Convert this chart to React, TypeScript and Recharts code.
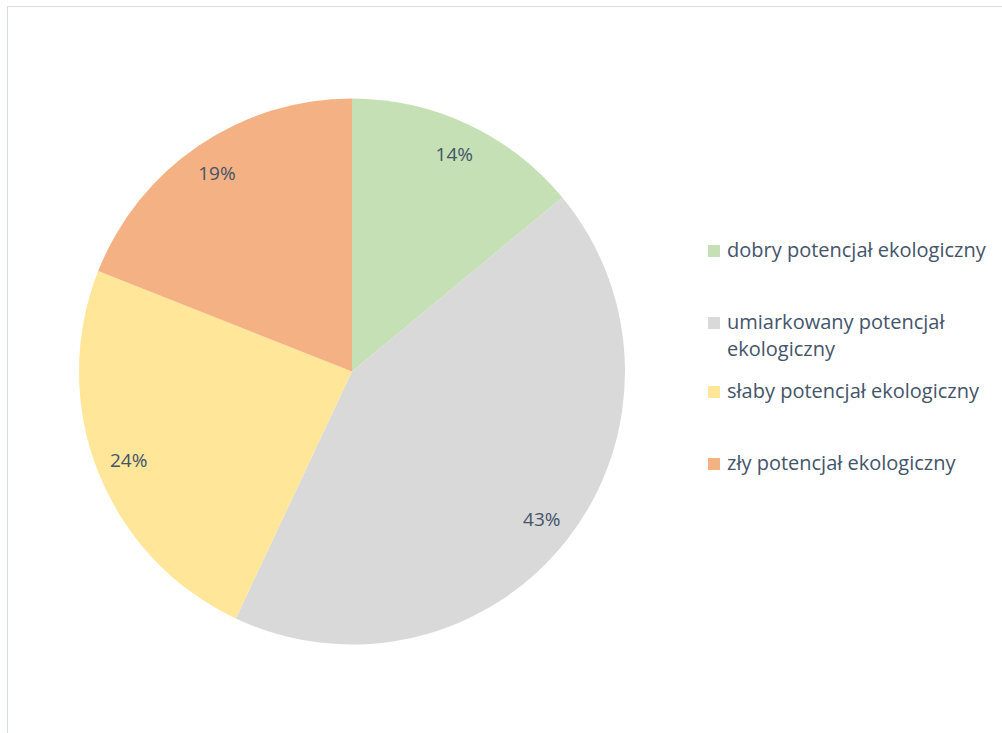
import React from "react";
import { PieChart, Pie, Cell, Legend } from "recharts";

// --- Data ---
const categories = [
  "dobry potencjał ekologiczny",
  "umiarkowany potencjał ekologiczny",
  "słaby potencjał ekologiczny",
  "zły potencjał ekologiczny",
];
const shares = [14, 43, 24, 19];
const COLORS = ["#C5E0B4", "#D9D9D9", "#FFE699", "#F4B183"];

const data = categories.map((name, i) => ({ name, value: shares[i] }));

const TEXT = "#44546A";
const FONT = "'Open Sans', 'Noto Sans', sans-serif";

const RADIAN = Math.PI / 180;

// percent labels sit inside the slices, close to the rim
const renderLabel = ({ cx, cy, midAngle, outerRadius, percent }: any) => {
  const r = outerRadius * 0.88;
  const x = cx + r * Math.cos(-midAngle * RADIAN);
  const y = cy + r * Math.sin(-midAngle * RADIAN);
  return (
    <text x={x} y={y} fill={TEXT} fontSize={19} fontFamily={FONT} textAnchor="middle" dominantBaseline="central">
      {`${Math.round(percent * 100)}%`}
    </text>
  );
};

// legend drawn in data order (recharts would sort it otherwise)
const CustomLegend = () => (
  <div style={{ fontFamily: FONT, fontSize: 20, color: TEXT }}>
    {categories.map((name, i) => (
      <div key={name} style={{ display: "flex", alignItems: "flex-start", height: i === 1 ? 69 : 72 }}>
        <span style={{ width: 12, height: 12, background: COLORS[i], marginTop: 9, marginRight: 7, flexShrink: 0 }} />
        <span style={{ lineHeight: "27px", width: 275 }}>{name}</span>
      </div>
    ))}
  </div>
);

export default function App() {
  return (
    <div style={{ position: "fixed", left: 0, top: 0, width: 1002, height: 733, background: "#fff", overflow: "hidden" }}>
      <div style={{ position: "absolute", left: 7, top: 6, width: 1100, height: 800, borderLeft: "1px solid #D9DEE4", borderTop: "1px solid #D9DEE4" }} />
      <PieChart width={1002} height={733} margin={{ top: 0, right: 0, bottom: 0, left: 0 }} style={{ position: "absolute", left: 0, top: 0 }}>
        <Pie
          data={data}
          dataKey="value"
          nameKey="name"
          cx={352}
          cy={371.5}
          outerRadius={273}
          startAngle={90}
          endAngle={-270}
          stroke="none"
          label={renderLabel}
          labelLine={false}
          isAnimationActive={false}
        >
          {data.map((entry, index) => (
            <Cell key={`cell-${index}`} fill={COLORS[index]} />
          ))}
        </Pie>
        <Legend
          layout="vertical"
          content={<CustomLegend />}
          wrapperStyle={{ position: "absolute", left: 708, top: 236, width: 294 }}
        />
      </PieChart>
    </div>
  );
}
